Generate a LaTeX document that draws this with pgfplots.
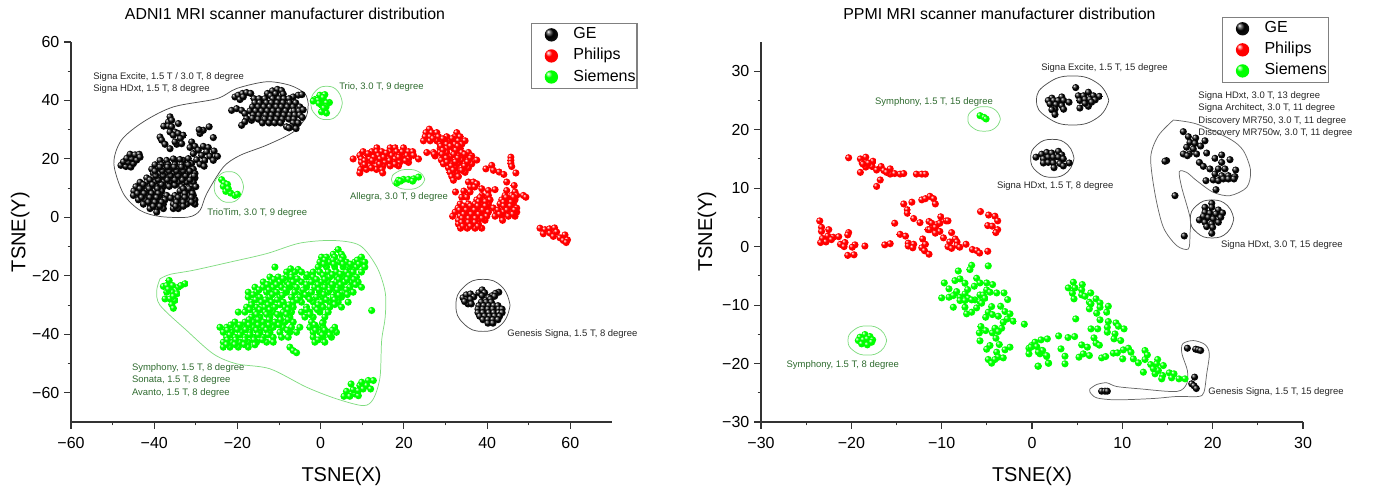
\documentclass[border=0pt]{standalone}
\usepackage{fontspec}
\setmainfont{Liberation Sans}
\usepackage{pgfplots}
\pgfplotsset{compat=1.18}

\definecolor{annot}{HTML}{2F6B2F}
\definecolor{outl}{HTML}{80DC80}
\definecolor{axc}{HTML}{333333}

% shaded balls, as in the original
\pgfdeclareradialshading{shblack}{\pgfpoint{-13bp}{13bp}}{color(0bp)=(white); color(6bp)=(gray); color(15bp)=(black); color(50bp)=(black!85!white)}
\pgfdeclareradialshading{shred}{\pgfpoint{-13bp}{13bp}}{color(0bp)=(white); color(12bp)=(red); color(40bp)=(red); color(60bp)=(red!85!black)}
\pgfdeclareradialshading{shgreen}{\pgfpoint{-13bp}{13bp}}{color(0bp)=(white); color(12bp)=(green); color(40bp)=(green); color(60bp)=(green!85!black)}
\pgfdeclareplotmark{bblack}{\pgfpathcircle{\pgfpointorigin}{\pgfplotmarksize}\pgfshadepath{shblack}{0}\pgfusepath{discard}}
\pgfdeclareplotmark{bred}{\pgfpathcircle{\pgfpointorigin}{\pgfplotmarksize}\pgfshadepath{shred}{0}\pgfusepath{discard}}
\pgfdeclareplotmark{bgreen}{\pgfpathcircle{\pgfpointorigin}{\pgfplotmarksize}\pgfshadepath{shgreen}{0}\pgfusepath{discard}}

\pgfplotsset{
  legend image code/.code={\path[draw=none] (0pt,0pt) -- (30.5pt,0pt);\draw[#1,mark size=5pt] plot coordinates {(14pt,0pt)};},
  tsne/.style={
    scale only axis,
    anchor=origin,
    clip=false,
    axis lines=left,
    axis line style={-,color=axc,line width=0.9pt},
    tick align=outside,
    tick style={color=axc,line width=0.8pt},
    major tick length=5.2pt,
    minor tick length=2.6pt,
    minor tick num=1,
    xtick pos=bottom,
    ytick pos=left,
    tick label style={font=\fontsize{12}{14}\selectfont},
    xticklabel style={yshift=-3pt},
    label style={font=\fontsize{15}{18}\selectfont},
    title style={font=\fontsize{11.9}{14}\selectfont,anchor=center},
    every axis title shift=0pt,
    xlabel={TSNE(X)},
    ylabel={TSNE(Y)},
    legend cell align=left,
    legend style={draw=gray,line width=0.8pt,anchor=north west,
      inner xsep=1pt,inner ysep=2.5pt,row sep=3.8pt,
      nodes={font=\fontsize{12}{14}\selectfont,inner xsep=0pt,inner ysep=0pt,text height=9pt,text depth=3pt}},
  },
  ball/.style={only marks,mark=#1,mark size=2.7pt},
  curve/.style={smooth,no marks,forget plot,line width=0.55pt,color=#1},
  oval/.style={curve=#1,tension=0.85},
}
\tikzset{
  blk/.style={font=\fontsize{7.1}{9.3}\selectfont,inner sep=0pt,anchor=west,align=left,text=black!85},
  grn/.style={font=\fontsize{7.1}{9.3}\selectfont,inner sep=0pt,anchor=west,align=left,text=annot},
}

\begin{document}
\begin{tikzpicture}
\path[use as bounding box] (0,0) rectangle (1030.5pt,366pt);

\begin{axis}[tsne,
  at={(53.25pt,49.5pt)},
  anchor=south west,
  width=405.75pt,height=285pt,
  xmin=-60,xmax=70,ymin=-70,ymax=60,
  xtick={-60,-40,-20,0,20,40,60},
  xticklabels={−60,−40,−20,0,20,40,60},
  ytick={-60,-40,-20,0,20,40,60},
  yticklabels={−60,−40,−20,0,20,40,60},
  xlabel style={at={(axis description cs:0.5,-0.143)},anchor=center},
  ylabel style={at={(axis description cs:-0.094,0.5)},anchor=center},
  title={ADNI1 MRI scanner manufacturer distribution},
  title style={at={(axis description cs:0.3956,1.074)}},
  legend style={at={(axis description cs:0.85,1.05)}},
]
% GE
\addplot[ball=bblack] coordinates {
(-20.6,41.2)(-19.8,41.8)(-18.8,42.4)(-17.8,42.7)(-16.8,42.4)(-19.4,40.3)(-18.6,41.2)
(-21.4,36.6)(-20.2,37.2)(-19,36.6)(-18.2,35.5)(-17.8,33.8)(-19,31.5)(-18.2,32.7)(-16.6,33.2)
(-12.8,42.4)(-11.6,43.3)(-10.4,43.8)(-9.4,43.4)(-9,42.2)(-12,41.6)(-10.8,42.3)
(-5.4,41.8)(-4.5,42)(-6.6,41.2)
(-16,40.6)(-14.8,40.6)(-13.4,40.6)(-11.5,40.6)(-10,40.6)(-8.8,40.6)(-7.6,40.6)
(-15.8,39.2)(-14.6,39.2)(-13,39.2)(-11.8,39.2)(-10.4,39.2)(-9,39.2)(-7.4,39.2)(-6,39.2)
(-16.4,37.8)(-15,37.8)(-13.6,37.8)(-12.2,37.8)(-10.6,37.8)(-9.4,37.8)(-8,37.8)(-6.6,37.8)(-5,37.8)
(-17,36.4)(-15.6,36.4)(-14.2,36.4)(-12.8,36.4)(-11.4,36.4)(-10,36.4)(-8.4,36.4)(-6.4,36.4)(-5.2,36.4)(-4.2,36.8)
(-16.2,35)(-14.8,35)(-13.2,35)(-11.8,35)(-10.2,35)(-8.8,35)(-7.4,35)(-6.2,35)(-5,35)
(-16.4,33.9)(-15,33.6)(-13.4,33.6)(-12,33.6)(-10.6,33.6)(-9.2,33.6)(-7.6,33.6)(-6.4,33.6)(-4.4,34.2)
(-14,32.3)(-12.4,32.3)(-11,32.3)(-9.6,32.3)(-6.6,32.3)(-5.4,32.3)
(-8.2,31)(-7,31)(-5.9,30.4)(-7.6,30.6)
(-48,17.8)(-46.8,17.4)(-45.6,17.2)(-47.4,19)(-46.2,18.8)(-45,18.4)(-46.6,20.2)(-45.4,20)(-44.2,19.6)(-45.8,21.6)(-44.6,21.4)(-43.6,21.6)(-43.4,20.6)
(-36.2,34.4)(-36.6,32.6)(-35.8,33.2)(-37.7,31.2)(-36.6,31.2)(-34.2,32.1)(-35.8,31)(-35,29.2)(-36.2,29.2)(-35.4,28.1)(-34.2,28.7)(-33,28.1)(-33.7,27)(-38.6,27.5)(-38.2,26.4)(-37.4,25)(-36.2,23.5)(-34.6,25)(-33.4,25.2)(-35,25.8)
(-28.2,29.8)(-26.8,31)(-25.8,27.3)(-29,28.7)(-29.2,30)
(-31,25.8)(-30.2,24.3)(-31.4,23.9)(-28.2,24.3)(-27,23.9)(-29.4,23)(-27.4,22.4)(-25.6,22.7)(-30.6,21.8)(-28.6,21.2)(-26.6,20.9)(-24.8,20.9)(-31.8,20.1)(-29.8,19.7)(-27.8,19.5)(-25.8,19.5)(-31,18.4)(-29,18.2)(-28,17.5)(-33,19.5)(-35,19.5)
(-38.6,19.5)(-37,19.5)(-35.4,20)(-33.8,19.8)
(-39.8,18)(-38.2,18)(-36.6,18)(-35,18)(-33.4,18)(-31.8,18)
(-40.6,16.5)(-39,16.5)(-37.4,16.5)(-35.8,16.5)(-34.2,16.5)(-32.6,16.5)(-30.6,16.5)
(-40.2,15)(-38.6,15)(-37,15)(-35.4,15)(-33.8,15)(-32.2,15)(-30.2,15)
(-41.8,13.5)(-40.2,13.5)(-38.2,13.5)(-36.6,13.5)(-34.6,13.5)(-32.6,13.5)(-30.2,13.5)
(-43.4,12)(-41.8,12)(-39.8,12)(-37.8,12)(-36.2,12)(-34.2,12)(-32.2,12)(-30.6,12)
(-44.4,10.5)(-42.8,10.5)(-41,10.5)(-39.4,10.5)(-37.8,10.5)(-33.4,10.5)(-31,10.5)(-30,10.5)
(-44.9,9)(-43.4,9)(-41.7,9)(-39.8,9)(-38.2,9)(-33.8,9)(-32.2,9)(-31,9)
(-45,7.5)(-43.4,7.5)(-41.8,7.5)(-40.2,7.5)(-38.6,7.5)(-37,7.5)(-35,7.5)(-33,7.5)(-31.8,7.5)(-30.6,7.5)
(-43.8,6)(-42.2,6)(-40.6,6)(-39,6)(-37.4,6)(-35,6)(-33.4,6)(-31.8,6)(-30.2,6)
(-42.6,4.5)(-41,4.5)(-39.4,4.5)(-37.8,4.5)(-35.4,4.5)(-33.8,4.5)(-32.2,4.5)(-30.2,4.5)
(-41,3)(-39.4,3)(-37.8,3)(-35.4,3)(-34.2,3)(-39.4,1.8)
(-36.4,10.6)(-35,11)(-38.2,11.2)(-36.8,12.8)(-35,12.8)(-33.2,12.8)(-31.4,12.8)(-41,12.8)(-39,12.8)(-39.6,14.2)(-37.8,14.2)(-36,14.2)(-34.2,14.2)(-32.4,14.2)(-30.4,14.2)(-39.8,15.8)(-38,15.8)(-36.4,15.8)(-34.6,15.8)(-33,15.8)(-31.4,15.8)(-38.6,17.2)(-36.8,17.2)(-35.2,17.2)(-33.4,17.2)(-42.6,11.2)(-40.4,11.2)(-43.4,9.8)(-41.2,9.8)(-39.2,9.8)(-31.6,9.8)(-33,9.8)(-44,8.2)(-42.4,8.2)(-40.6,8.2)(-39,8.2)(-32.6,8.2)(-30.8,8.2)(-43,6.8)(-41,6.8)(-39.4,6.8)(-36,6.6)(-34.2,6.8)(-32.6,6.8)(-31,6.8)(-41.4,5.2)(-39.8,5.2)(-38.2,5.2)(-34.6,5.2)(-33,5.2)(-31,5.2)(-40.2,3.8)(-38.6,3.8)(-34.8,3.8)(-33,3.8)
(34.2,-27.5)(35,-26.5)(36,-26.2)(36.8,-27.2)(35,-28.2)(36,-28)(35.4,-29.6)(36.2,-29.6)(34.6,-28.8)
(38,-25.8)(38.8,-24.8)(39.4,-25.8)(38.8,-26.8)
(42.8,-25.6)(42,-26)(41.2,-26.8)(40.4,-27.4)(41.8,-27)(40.8,-28)
(38.6,-29)(39.8,-29)(41,-29)
(38,-30.2)(39.2,-30.2)(40.4,-30.2)(41.6,-30.2)(42.6,-30.2)
(37.8,-31.4)(39,-31.4)(40.2,-31.4)(41.4,-31.4)(42.8,-31.4)(43.6,-31.4)
(37.8,-32.6)(39,-32.6)(40.4,-32.6)(41.6,-32.6)(42.8,-32.6)(43.6,-32.6)
(38.2,-33.8)(39.4,-33.8)(40.6,-33.8)(41.8,-33.8)(43,-33.8)
(39,-35)(40.2,-35)(41.4,-35)(42.6,-35)(40.2,-36.2)(41.4,-36.2)
};
\addlegendentry{GE}
% Philips
\addplot[ball=bred] coordinates {
(13.5,23.8)(16.7,23.8)(17.9,23.8)(19.9,23.8)
(10.2,22.5)(12.3,22.5)(13.5,22.5)(14.7,22.5)(16.7,22.5)(18.3,22.5)(21.1,22.5)(22.1,22.5)
(9.4,21.2)(11.4,21.2)(13.9,21.2)(15.5,21.2)(17.1,21.2)(19,21.2)(20.7,21.2)(22.3,21.2)
(7.8,20)(9.8,20)(11.8,20)(14.3,20)(16.3,20)(17.9,20)(19.5,20)(21.1,20)(23.5,20)
(9.8,18.8)(11.4,18.8)(13.4,18.8)(15.5,18.8)(17.5,18.8)(19,18.8)(21.1,18.8)
(10.2,17.6)(11.8,17.6)(13.4,17.6)(15,17.6)(16.7,17.6)(18.7,17.6)
(9.6,16.4)(11,16.4)(13.4,16.4)(14.7,16.4)(9.4,15.2)(14.9,15.2)
(11.4,21.8)(15.8,22)(19.6,22.4)(12.8,20.6)(15.2,20.6)(18.8,20.6)(10.6,19.4)(12.4,19.4)(16.6,19.4)(20.4,19.4)(10.6,18)(14.2,18.2)(17.9,18.2)(12.2,16.9)
(26.1,30.2)(25.3,29)(26.7,29)(27.9,29)(32.7,29)
(25.1,27.6)(26.3,27.6)(28.3,27.6)(30.3,27.6)(32.3,27.6)(33.5,27.6)
(24.7,26.2)(26.3,26.2)(27.9,26.2)(29.9,26.2)(31.5,26.2)(33.1,26.2)(34.7,26.2)
(28.7,25)(30.3,25)(32.3,25)(33.9,25)
(28.7,23.6)(30.3,23.6)(31.9,23.6)(33.5,23.6)
(25.5,22.2)(27.1,22.2)(28.7,22.2)(30.3,22.2)(32.3,22.2)(33.9,22.2)(35.5,22.2)
(27.5,21)(29.5,21)(31.5,21)(33.1,21)(34.7,21)(36.3,21)
(29,19.6)(30.7,19.6)(32.3,19.6)(33.9,19.6)(35.5,19.6)(37.5,19.6)
(29.5,18.3)(31.5,18.3)(33.1,18.3)(34.7,18.3)(36.3,18.3)
(30.7,16.9)(32.3,16.9)(33.9,16.9)(35.5,16.9)
(31.1,15.4)(32.7,15.4)(34.7,15.4)(31.5,14)(33.1,14)(31.9,12.7)
(27,27)(29.4,26.9)(31.6,27)(28.9,24.4)(31.2,24.4)(33,24.4)(29.4,23)(32.5,23)(27.3,21.6)(29.2,21.6)(32,21.6)(34.6,21.6)(30.2,20.3)(33,20.3)(36,20.3)(30.4,18.9)(32.4,19)(35.3,19)(31.4,17.6)(34.6,17.6)(31.9,16.2)(33.9,16.1)
(39.7,16.6)(41.1,17.8)(41.5,16.1)(42.9,15.5)(44,14.7)
(45.7,20.6)(45.7,19.5)(45.7,18.5)(45.9,17.4)(46.9,15.2)(44.7,12.1)
(35.5,12.1)(36.7,12.1)(37.5,11.5)(36,10.4)(37,10.4)
(32.4,8.7)(34.4,9)(35.9,8.7)(33.9,6.9)(35.1,6.9)
(38.7,9.8)(40.3,9.2)(41.9,9.5)(46.5,10.9)(44.7,9.2)(46.7,8.7)(48.7,7.5)(49.3,6.9)
(38.7,7.5)(40.3,7.5)(44.3,7.5)(45.9,7.5)(47.1,7.5)
(37.5,6)(39.1,6)(40.7,6)(43.5,6)(45.1,6)(46.7,6)
(33.5,4.6)(35.5,4.6)(37.1,4.6)(38.7,4.6)(40.3,4.6)(43.1,4.6)(44.7,4.6)(46.3,4.6)
(33,3.2)(34.7,3.2)(36.3,3.2)(38.3,3.2)(39.9,3.2)(41.5,3.2)(44.3,3.2)(45.9,3.2)(47.1,3.2)
(32.3,1.8)(33.9,1.8)(35.5,1.8)(37.1,1.8)(38.7,1.8)(40.3,1.8)(42.3,1.8)(43.9,1.8)(45.5,1.8)(47.1,1.8)
(31.7,.4)(33.5,.4)(35.1,.4)(36.7,.4)(38.3,.4)(39.9,.4)(41.9,.4)(43.5,.4)(45.1,.4)(46.7,.4)
(33.1,-1)(34.7,-1)(36.3,-1)(37.9,-1)(39.5,-1)(43.7,-1)
(33.1,-2.3)(34.7,-2.3)(36.3,-2.3)(37.9,-2.3)
(33.6,-3.7)(35.2,-3.7)(37.1,-3.7)(38.7,-3.7)
(38.3,6.8)(44.6,6.8)(46.4,6.9)(38,5.4)(39.6,5.4)(44,5.2)(45.8,5.2)(34.4,3.9)(36,3.9)(37.8,3.9)(39.6,3.9)(44,3.9)(45.6,3.9)(33.4,2.5)(35,2.5)(37,2.5)(39,2.5)(42.6,2.5)(44.8,2.5)(46.6,2.5)(34.4,1.1)(36.2,1.1)(38,1.1)(43,1.1)(46.2,1.1)(34,-.3)(35.6,-.3)(37.2,-.3)(38.8,-.3)(33.9,-1.7)(35.5,-1.7)(37.1,-1.7)(34.2,-3)(36,-3)(37.8,-3)
(52.7,-3.7)(53.9,-4.2)(55,-3.9)(56.2,-3.6)(53.5,-5.6)(55.1,-5.4)(56.7,-5)(55.9,-6.5)(57.5,-7)(58.7,-6)(58.3,-7.9)(59.3,-7.7)(59,-8.6)
};
\addlegendentry{Philips}
% Siemens
\addplot[ball=bgreen] coordinates {
(4.2,-11)(3,-12.6)(5,-12.6)
(.2,-13.6)(1.4,-13.6)(3.4,-13.6)(5.4,-13.6)(9.8,-13.6)
(-.2,-15.3)(2.2,-15.3)(4.6,-15.3)(6.2,-15.3)(8.2,-15.3)(9.8,-15.3)(10.6,-15.3)
(-11,-17)(-5.4,-17.8)(-.6,-17)(1.4,-17)(3.4,-17)(5.4,-17)(7,-17)(8.6,-17)(10.6,-17)
(-8.2,-18.7)(-6.2,-18.7)(-4.6,-18.7)(-1.8,-18.7)(-.2,-18.7)(1.8,-18.7)(3.8,-18.7)(6.2,-18.7)(7.8,-18.7)(9.8,-18.7)
(-12.2,-20.4)(-10.2,-20.4)(-8.2,-20.4)(-7,-20.4)(-3.4,-20.4)(-1.8,-20.4)(2.2,-20.4)(3.8,-20.4)(5.4,-20.4)(7,-20.4)(8.6,-20.4)
(-13.8,-22.1)(-11.8,-22.1)(-9.8,-22.1)(-8.2,-22.1)(-6.6,-22.1)(-4.6,-22.1)(-2.2,-22.1)(.2,-22.1)(1.8,-22.1)(3.8,-22.1)(5.8,-22.1)(7.4,-22.1)(9,-22.1)
(-15.8,-23.9)(-13.8,-23.9)(-11.4,-23.9)(-9.4,-23.9)(-7.4,-23.9)(-5.8,-23.9)(-3.4,-23.9)(-1.4,-23.9)(1,-23.9)(3,-23.9)(5,-23.9)(7,-23.9)(9.8,-23.9)
(-17.4,-25.6)(-15.4,-25.6)(-13,-25.6)(-10.6,-25.6)(-8.2,-25.6)(-6.2,-25.6)(-4.6,-25.6)(-2.2,-25.6)(-.2,-25.6)(1.8,-25.6)(3.8,-25.6)(5.8,-25.6)(7.8,-25.6)
(-17.4,-27.3)(-14.6,-27.3)(-12.2,-27.3)(-9.8,-27.3)(-7,-27.3)(-5,-27.3)(-3,-27.3)(-1,-27.3)(.6,-27.3)(3,-27.3)(5,-27.3)
(-16.6,-29)(-14.2,-29)(-11.8,-29)(-9,-29)(-6.6,-29)(-4.6,-29)(-1.8,-29)(.2,-29)(2.2,-29)(4.2,-29)(6.6,-29)
(-17.8,-30.7)(-15.4,-30.7)(-13.4,-30.7)(-11,-30.7)(-8.6,-30.7)(-6.6,-30.7)(-3.4,-30.7)(-1.4,-30.7)(.6,-30.7)(2.2,-30.7)(5,-30.7)
(-19.8,-32.4)(-18.2,-32.4)(-15.8,-32.4)(-13.4,-32.4)(-11.4,-32.4)(-9,-32.4)(-7,-32.4)(-4.6,-32.4)(-2.6,-32.4)(-.2,-32.4)(1.8,-32.4)
(-16.6,-34.1)(-14.6,-34.1)(-12.2,-34.1)(-9.8,-34.1)(-7.4,-34.1)(-3.8,-34.1)(-1.8,-34.1)(1,-34.1)
(-20.6,-35.8)(-18.2,-35.8)(-16.2,-35.8)(-13.8,-35.8)(-11,-35.8)(-8.6,-35.8)(-6.6,-35.8)(-2.2,-35.8)(.6,-35.8)
(-24.2,-37.6)(-22.6,-37.6)(-20.6,-37.6)(-18.6,-37.6)(-16.2,-37.6)(-13.8,-37.6)(-11.4,-37.6)(-9,-37.6)(-7,-37.6)(-5,-37.6)(-2.6,-37.6)(-1,-37.6)(.6,-37.6)(3.4,-37.6)
(-23.4,-39.3)(-21.4,-39.3)(-19,-39.3)(-17,-39.3)(-14.6,-39.3)(-12.2,-39.3)(-9.8,-39.3)(-7.4,-39.3)(-5.8,-39.3)(-1.8,-39.3)(-.2,-39.3)(1.8,-39.3)(3.8,-39.3)
(-22.6,-41)(-20.6,-41)(-18.2,-41)(-16.2,-41)(-13.8,-41)(-11.4,-41)(-9.4,-41)(-7.8,-41)(-1.8,-41)(.6,-41)(2.6,-41)
(-23.4,-42.7)(-21.4,-42.7)(-19.4,-42.7)(-17.4,-42.7)(-15.4,-42.7)(-13,-42.7)(-11.4,-42.7)(-1.4,-42.7)(1,-42.7)
(-23.4,-44.4)(-21.8,-44.4)(-19.8,-44.4)(-17.4,-44.4)
(1,-14.6)(3,-14.6)(5,-14.6)(8.8,-14.6)(.8,-16)(3.2,-16)(5.4,-16)(7.2,-16)(9.2,-16)
(-7.2,-17.6)(-3.2,-19.6)(.6,-19.8)(2.8,-19.6)(4.8,-19.4)(6.8,-19.8)(-11.2,-21.2)(-9,-21)(-5.6,-21)(-1,-21.2)(1,-21.2)(4.4,-21.2)(6.4,-21.2)(8,-21.2)
(-12.8,-23)(-10.6,-23)(-7.6,-23)(-3.4,-23)(-.6,-23)(2.8,-23)(4.8,-23)(8.4,-23)
(-14.8,-24.8)(-12.4,-24.8)(-8.4,-24.8)(-4.2,-24.8)(-.4,-24.8)(2.2,-24.8)(4,-24.8)(6.2,-24.8)
(-16.2,-26.5)(-11.6,-26.4)(-9.2,-26.6)(-3.6,-26.5)(.8,-26.4)(4.4,-26.6)(6.4,-26.4)
(-15.6,-28.2)(-13.2,-28.2)(-10.4,-28.2)(-5.6,-28.2)(-2.6,-28)(1.4,-28.2)(3.4,-28.2)
(-16.6,-29.9)(-12.6,-29.9)(-9.8,-29.9)(-7.6,-29.9)(-.6,-29.9)(3.4,-29.8)
(-17,-31.6)(-14.6,-31.6)(-12.2,-31.6)(-7.8,-31.6)(-3.4,-31.6)(-.8,-31.6)
(-15.4,-33.2)(-13,-33.2)(-10.4,-33.2)(-8.2,-33.2)(-2.6,-33.2)
(-17.2,-35)(-15,-35)(-12.4,-35)(-9.6,-35)(-7.8,-35)
(-21.6,-36.8)(-19.4,-36.8)(-17.2,-36.8)(-15,-36.8)(-12.4,-36.8)(-10,-36.8)(-1.4,-36.8)(.4,-36.2)
(-22.4,-38.6)(-20,-38.4)(-18,-38.4)(-15.4,-38.6)(-13,-38.5)(-8,-38.6)(-1.2,-38.6)(1,-38.6)(2.8,-38.6)
(-21.8,-40.2)(-19.4,-40.2)(-17,-40.2)(-15,-40.2)(-12.6,-40.2)(.4,-40.2)(2.2,-40.2)
(-22.4,-41.9)(-20.4,-41.9)(-18.2,-41.9)(-16,-41.9)(-14,-41.9)(-.6,-41.9)
(-22.6,-43.5)(-20.6,-43.5)(-18.4,-43.5)(-15.8,-43.6)
(-7.4,-44.4)(-6.6,-45.6)(-5.8,-46.3)(12.25,-31.85)
(-37.8,-23.6)(-36.4,-21.6)(-37,-23.3)(-35.6,-23.3)(-34.2,-23.9)(-32.6,-22.7)(-33.6,-23.3)(-37,-25.6)(-35.6,-25.6)(-34.5,-26.1)(-37.4,-27.9)(-36.2,-27.9)(-35,-28.4)(-35.8,-29.8)(-35.4,-31.1)(-36.6,-24.6)(-35.4,-27)
(7.3,-57)(6.2,-59.5)(5.6,-61.2)(7,-61.2)(8.2,-60.4)(9.05,-61)(7.8,-59)(9.4,-57.5)(10.2,-58.7)(11.45,-55.8)(12.65,-55.8)(11.05,-57.5)(12,-58.7)(9.85,-56.4)(9.05,-59.3)
(-23.8,12.9)(-23.2,11.8)(-22.4,11.3)(-23.4,10.6)(-22.8,8.9)(-21.6,8.3)(-20.6,7.5)(-20,7.9)(-22.2,9.8)
(-1.4,40.3)(-.2,41.8)(1,42)(-.6,40.1)(.6,40.3)(2.1,39.3)(.2,38.4)(1.4,39.2)(.6,36.6)(1.4,35.7)(.2,36.1)(-1.8,39.8)(1.3,37.8)(.6,41)(-.4,39)(.8,37.4)
(18.3,11.7)(18.7,12.7)(19.9,13)(21.1,13)(22.4,13.2)(23.5,13.8)(22.1,12.4)(19.2,12.4)
};
\addlegendentry{Siemens}
% outlines
\addplot[curve=black!70] coordinates {(-3,38.9)(-3.5,34.4)(-6.6,29.2)(-13,24.7)(-19.4,21.2)(-23.4,17.2)(-27.4,8.1)(-29,2.4)(-31.8,.1)(-38.6,.3)(-43.4,2.4)(-47.4,8.1)(-49.7,18.4)(-47.9,26.4)(-42.6,32.7)(-35.4,37.8)(-25,40.6)(-20.2,44.1)(-13,46.4)(-7.4,45.2)(-3.8,42.4)(-3,38.9)};
\addplot[oval=black!70] coordinates {(45.5,-30.1)(43.6,-23.8)(39,-21.2)(34.4,-23.8)(32.5,-30.1)(34.4,-36.4)(39,-39)(43.6,-36.4)(45.5,-30.1)};
\addplot[oval=outl] coordinates {(5.2,39.16)(4.1,43.2)(1.43,44.86)(-1.24,43.2)(-2.34,39.16)(-1.24,35.1)(1.43,33.46)(4.1,35.1)(5.2,39.16)};
\addplot[oval=outl] coordinates {(-18.52,10.4)(-19.55,14.1)(-22.05,15.65)(-24.55,14.1)(-25.58,10.4)(-24.55,6.7)(-22.05,5.15)(-19.55,6.7)(-18.52,10.4)};
\addplot[oval=outl] coordinates {(25,13)(23.8,15.4)(21,16.4)(18.2,15.4)(17,13)(18.2,10.6)(21,9.6)(23.8,10.6)(25,13)};
\addplot[curve=outl] coordinates {(-38.6,-21)(-36.2,-19.5)(-30.6,-18.1)(-21.8,-15.3)(-13,-12.4)(-5,-8.8)(3,-7.9)(9.4,-9.6)(13.5,-17)(15.5,-25.6)(15.5,-34.1)(14.65,-42.1)(14.25,-54.7)(12.65,-62.1)(10.25,-64.4)(3.85,-62.1)(-3.4,-58.1)(-12.2,-51.8)(-20.2,-50.1)(-25.8,-46.7)(-32.2,-38.7)(-38.6,-30.1)(-39.4,-25)(-38.6,-21)};
% annotations
\node[blk] at (axis cs:-54.7,45.9) {Signa Excite, 1.5 T / 3.0 T, 8 degree\\Signa HDxt, 1.5 T, 8 degree};
\node[grn] at (axis cs:4.4,44.5) {Trio, 3.0 T, 9 degree};
\node[grn] at (axis cs:-27.3,1.4) {TrioTim, 3.0 T, 9 degree};
\node[grn] at (axis cs:7,6.8) {Allegra, 3.0 T, 9 degree};
\node[blk] at (axis cs:44.8,-40) {Genesis Signa, 1.5 T, 8 degree};
\node[grn] at (axis cs:-45.4,-55.8) {Symphony, 1.5 T, 8 degree\\Sonata, 1.5 T, 8 degree\\Avanto, 1.5 T, 8 degree};
\end{axis}

\begin{axis}[tsne,
  at={(570.75pt,49.5pt)},
  anchor=south west,
  width=406.5pt,height=285pt,
  xmin=-30,xmax=30,ymin=-30,ymax=35,
  xtick={-30,-20,-10,0,10,20,30},
  xticklabels={−30,−20,−10,0,10,20,30},
  ytick={-30,-20,-10,0,10,20,30},
  yticklabels={−30,−20,−10,0,10,20,30},
  xlabel style={at={(axis description cs:0.5,-0.143)},anchor=center},
  ylabel style={at={(axis description cs:-0.0996,0.5)},anchor=center},
  title={PPMI MRI scanner manufacturer distribution},
  title style={at={(axis description cs:0.44,1.074)}},
  legend style={at={(axis description cs:0.8506,1.066)}},
]
% GE
\addplot[ball=bblack] coordinates {
(4.84,27.2)(2.2,25.4)(3.3,25.6)(1.8,25)(2.4,25)(2.9,25)(3.5,25)(4.1,24.7)(2,24.4)(2.66,24.3)(3.3,24.1)(2.55,23.5)(2.2,23.4)(3.5,23.5)(2.55,22.6)(5.13,25.8)(5.7,25.8)(6.24,26.4)(6.8,25.8)(7.46,25.7)(5.3,25)(5.87,25.2)(6.42,25.2)(7,25.1)(5.3,23.7)(6.24,24)(6.6,24.7)(5.87,24.5)
(.44,15.3)(1.07,15.8)(1.63,16.1)(2.18,16)(2.92,16.3)(3.29,15.7)(1.26,15)(1.8,15.3)(2.36,15.3)(2.92,15.3)(3.47,15)(4.13,14.3)(1.26,14.3)(1.8,14.4)(2.36,14.3)(3.1,14.2)(2.44,13.5)(3.47,13.8)
(16.75,19.66)(17.31,18.8)(18.12,18.57)(19.15,18.1)(17.49,17.83)(18.05,17.66)(18.67,17.2)(17.12,17)(17.86,16.7)(16.75,15.84)(17.42,15.84)(18.23,15.84)(17.2,15.55)(19.34,16)(14.9,14.7)(14.72,14.6)
(20.26,15.1)(21,15.67)(21.92,14.87)(21,14.4)(18.53,14.4)(18.97,13.73)(19.7,13.28)(20.63,13.28)(21.37,13.28)(22.55,13.1)
(20.26,12.42)(21,12.13)(21.74,12.13)(22.47,11.96)(20.07,11.4)(20.63,11.28)(21.18,11.57)(21.74,11.57)(22.36,11.57)(19.26,11.28)(20.37,9.74)(15.83,8.72)(16.86,1.82)
(19.9,7.4)(19.15,6.72)(19.9,6.72)(20.63,6.27)(19.15,5.87)(19.7,5.7)(20.37,5.58)(21.1,5.75)(18.97,5.18)(19.52,5)(20.07,4.73)(20.9,5)(18.53,4.56)(19.15,4.16)(19.9,3.87)(20.63,4.16)(19.34,3.42)(20,3.3)(19.9,2.28)
(17.2,-17.38)(18.12,-17.55)(18.41,-17.66)(18.67,-17.77)(18,-22.33)(17.68,-23.47)(17.94,-23.81)(18.19,-24.27)(7.71,-24.73)(8.08,-24.73)(8.34,-24.73)
};
\addlegendentry{GE}
% Philips
\addplot[ball=bred] coordinates {
(-20.3,15.2)(-19,15)(-18.4,15.3)(-18.8,14.3)(-17.6,14.6)(-18.4,13.6)(-17.7,13.7)(-19,12.7)(-17.2,13.1)(-16.7,13.7)(-16.4,13)(-15.7,13.3)(-15.7,12.4)(-15.2,12.5)(-14.6,12.4)(-14.2,12.5)(-12.8,12.4)(-12.2,12.4)(-11.8,12.4)(-16.8,11.4)(-17.2,10.3)(-18.7,14.1)(-18.1,14.3)(-16.1,12.7)
(-14.2,7.3)(-13.3,7.6)(-13.8,6.3)(-13.8,5.7)(-12.2,8)(-11.8,8.2)(-11.3,8.6)(-10.9,8.2)(-10.7,7.3)(-13.1,4.8)(-12.4,4.1)(-15.2,4)(-10.1,5.1)(-11.4,4.3)(-11.1,4)(-9.5,4.4)(-9.3,4.4)(-10.5,3.8)(-10.2,4)(-10.7,3.3)(-11.5,2.9)(-11.3,2.9)(-10.2,2.6)(-10.7,2.3)(-9.8,1.5)(-8.9,2.4)(-8.5,1.3)(-8.3,.8)(-14.6,2.1)(-14,1.8)(-12.1,1.3)(-11.8,.4)(-13.7,.6)(-13.1,.4)(-13.7,.1)(-13.2,-.2)(-12.2,-.2)(-11.9,-.7)(-11.4,-1.3)(-9.1,.8)(-9.3,0)(-8.9,-.3)(-8.3,.2)(-8,-.1)(-7.3,.4)(-6.6,-.5)(-6.1,-.7)(-5.8,-1.1)(-4.9,-.8)
(-5.7,6)(-4.8,5.4)(-4.1,5.2)(-3.8,4.4)(-4.9,3.6)(-4.4,3.5)(-3.8,2.9)(-4,2.4)
(-23.5,4.4)(-23.3,3.3)(-23.3,2.6)(-22.5,2.9)(-22.6,1.8)(-23.2,1.4)(-22,1.6)(-21.4,1.7)(-22.2,1.2)(-22.8,.8)(-23.4,.7)(-20.3,2.4)(-20.4,2)(-21.2,.4)(-20.7,.7)(-20.8,0)(-19.6,.3)(-19.9,-.1)(-18.5,.1)(-20.4,-1.5)(-19.7,-1.4)(-16.3,.3)(-15.7,.5)
};
\addlegendentry{Philips}
% Siemens
\addplot[ball=bgreen] coordinates {
(-8.16,-4.16)(-6.68,-3.19)(-6.87,-3.93)(-4.84,-3.3)(-9.71,-6.21)(-8.53,-5.81)(-7.97,-5.52)(-7.42,-6.26)(-6.13,-5.41)(-5.76,-6.21)(-5.02,-6.21)(-4.36,-6.49)(-6.39,-6.78)(-9.19,-7.23)(-7.12,-7.35)(-8.34,-7.69)(-5.02,-7.4)(-5.76,-8.26)(-5.39,-8.26)(-4.65,-7.8)(-3.91,-7.92)(-3.1,-7.92)
(-10,-8.77)(-9.19,-8.66)(-8.71,-8.37)(-7.97,-8.66)(-7.42,-8.09)(-7.05,-8.83)(-6.31,-9.11)(-5.76,-9.4)(-5.21,-8.83)(-2.7,-9.06)(-7.97,-9.23)(-7.42,-9.23)(-6.68,-9.11)(-8.71,-10.37)(-7.42,-10.37)(-6.13,-10.48)(-5.58,-9.68)(-4.47,-10.25)(-3.47,-10.2)
(-7.24,-11.5)(-6.68,-11.22)(-4.84,-11.22)(-5.13,-12.08)(-4.39,-11.62)(-3.73,-11.9)(-2.99,-11.11)(-2.44,-11.5)(-2.73,-12.36)(-3.18,-12.93)(-2.07,-12.76)(-.85,-13.27)(-5.65,-13.67)(-5.83,-14.75)(-5.13,-14.36)(-4.1,-13.96)(-3.36,-13.96)(-4.39,-14.75)(-3.73,-14.53)(-3.99,-15.67)(-5.76,-16.12)(-4.65,-16.92)(-3.62,-16.75)(-5.02,-17.55)(-2.44,-17.2)(-2.99,-17.66)(-3.91,-18.06)(-3.73,-18.91)(-4.84,-19.31)(-3.18,-19.03)(-4.1,-19.31)(-4.47,-19.94)
(-.34,-17.38)(-.34,-18.34)(-.04,-16.92)(1.07,-17.77)(.88,-18.34)(1.62,-18.8)(1.84,-19.94)(.66,-20.45)
(-19.04,-15.5)(-18.49,-15.04)(-17.94,-15.38)(-19.23,-16.06)(-18.67,-15.95)(-18.23,-15.78)(-17.64,-15.95)(-18.86,-16.63)(-18.23,-16.8)(-17.75,-16.35)
(-5.75,22.4)(-5.3,22.1)(-5.08,21.84)
(4.58,-6.09)(4.02,-7.06)(4.76,-7.06)(5.57,-6.49)(5.5,-7.4)(4.47,-7.97)(5.5,-8.26)(5.87,-8.49)(6.5,-7.92)(4.65,-8.94)(6.35,-9.51)(6.53,-9.8)(7.09,-8.94)(7.53,-9.63)(7.53,-10.37)(6.35,-10.65)(8.45,-10.2)(8.27,-11.22)(7.16,-11.39)(4.84,-12.36)(7.53,-12.53)(8.45,-12.82)(9.3,-13.05)(9.56,-13.62)(10.19,-14.07)(6.53,-14.07)(7.27,-14.07)(8.34,-13.79)(8.34,-14.64)(9.19,-14.93)(9.08,-15.78)(9.82,-16.07)
(2.95,-15.27)(3.99,-15.55)(4.72,-15.38)(1.7,-15.78)(1,-15.95)(.33,-16.35)(.52,-17.09)(-.11,-17.2)(6.86,-15.61)(7.09,-16.52)(7.46,-16.86)(5.5,-16.81)(6.13,-17.2)(3.21,-17.49)(1.18,-17.77)(.7,-18.06)(3.65,-18.74)(1.62,-18.63)(1.81,-19.94)(3.65,-20.05)(.7,-20.45)(5.68,-18.34)(5.2,-18.91)(6.35,-18.63)(7.71,-19.03)(8.16,-18.8)(9,-18.23)(9.45,-18.17)(10.11,-17.66)(10.67,-17.38)(10.04,-19.2)(10.96,-18.06)(11.22,-19.2)(11.77,-19.88)(12.51,-17.77)(12.77,-18.52)(12.51,-19.31)(13.91,-19.31)(13.14,-20.17)(13.8,-20.05)(14.54,-20.34)(12.33,-21.48)(13.62,-21.76)(13.99,-21.19)(14.47,-22.05)(15.2,-21.59)(15.72,-21.76)(15.46,-22.45)(16.27,-22.62)(16.94,-22.62)(14.36,-22.62)(13.43,-20.91)
};
\addlegendentry{Siemens}
% outlines
\addplot[oval=black!70] coordinates {(8.5,25)(7.3,27.9)(4.5,29.2)(1.7,27.9)(.5,25)(1.7,22.1)(4.5,20.8)(7.3,22.1)(8.5,25)};
\addplot[oval=black!70] coordinates {(4.65,15.1)(3.95,17.4)(2.25,18.35)(.55,17.4)(-.15,15.1)(.55,12.8)(2.25,11.85)(3.95,12.8)(4.65,15.1)};
\addplot[oval=black!70] coordinates {(22.33,4.73)(21.63,7.03)(19.93,7.98)(18.23,7.03)(17.53,4.73)(18.23,2.43)(19.93,1.48)(21.63,2.43)(22.33,4.73)};
\addplot[curve=black!60] coordinates {(15.65,21.65)(18.23,20.97)(21.92,18.4)(23.4,16.4)(24.2,13)(23.77,10.14)(21.92,8.72)(20.07,9.29)(18.23,11.28)(17.12,12.7)(16.31,12.82)(16.57,10.14)(17.49,5)(17.49,2.16)(17.31,-.4)(16.02,.17)(14.54,3.3)(13.62,9)(13.14,15.27)(13.99,18.97)(15.65,21.65)};
\addplot[curve=black!60] coordinates {(6.42,-24.33)(7.16,-23.59)(8.27,-23.3)(9.37,-23.93)(11.96,-24.33)(16.02,-24.78)(17.12,-23.47)(17.2,-21.19)(16.6,-18.34)(16.68,-16.63)(17.86,-16.07)(19.15,-16.75)(19.63,-18.34)(19.34,-21.76)(19.04,-24.9)(18.41,-25.64)(16.02,-25.64)(13.43,-25.98)(9.37,-26.21)(7.16,-25.87)(6.42,-24.9)(6.42,-24.33)};
\addplot[oval=outl] coordinates {(-3.5,21.84)(-4.03,23.33)(-5.3,23.94)(-6.57,23.33)(-7.1,21.84)(-6.57,20.35)(-5.3,19.74)(-4.03,20.35)(-3.5,21.84)};
\addplot[oval=outl] coordinates {(-16.09,-16.06)(-16.72,-14.29)(-18.23,-13.56)(-19.74,-14.29)(-20.37,-16.06)(-19.74,-17.83)(-18.23,-18.56)(-16.72,-17.83)(-16.09,-16.06)};
% annotations
\node[blk] at (axis cs:1,30.6) {Signa Excite, 1.5 T, 15 degree};
\node[grn] at (axis cs:-17.4,24.8) {Symphony, 1.5 T, 15 degree};
\node[blk] at (axis cs:-3.9,10.4) {Signa HDxt, 1.5 T, 8 degree};
\node[blk] at (axis cs:18.4,22.6) {Signa HDxt, 3.0 T, 13 degree\\Signa Architect, 3.0 T, 11 degree\\Discovery MR750, 3.0 T, 11 degree\\Discovery MR750w, 3.0 T, 11 degree};
\node[blk] at (axis cs:20.9,.3) {Signa HDxt, 3.0 T, 15 degree};
\node[blk] at (axis cs:19.5,-24.8) {Genesis Signa, 1.5 T, 15 degree};
\node[grn] at (axis cs:-27.2,-20.2) {Symphony, 1.5 T, 8 degree};
\end{axis}
\end{tikzpicture}
\end{document}
